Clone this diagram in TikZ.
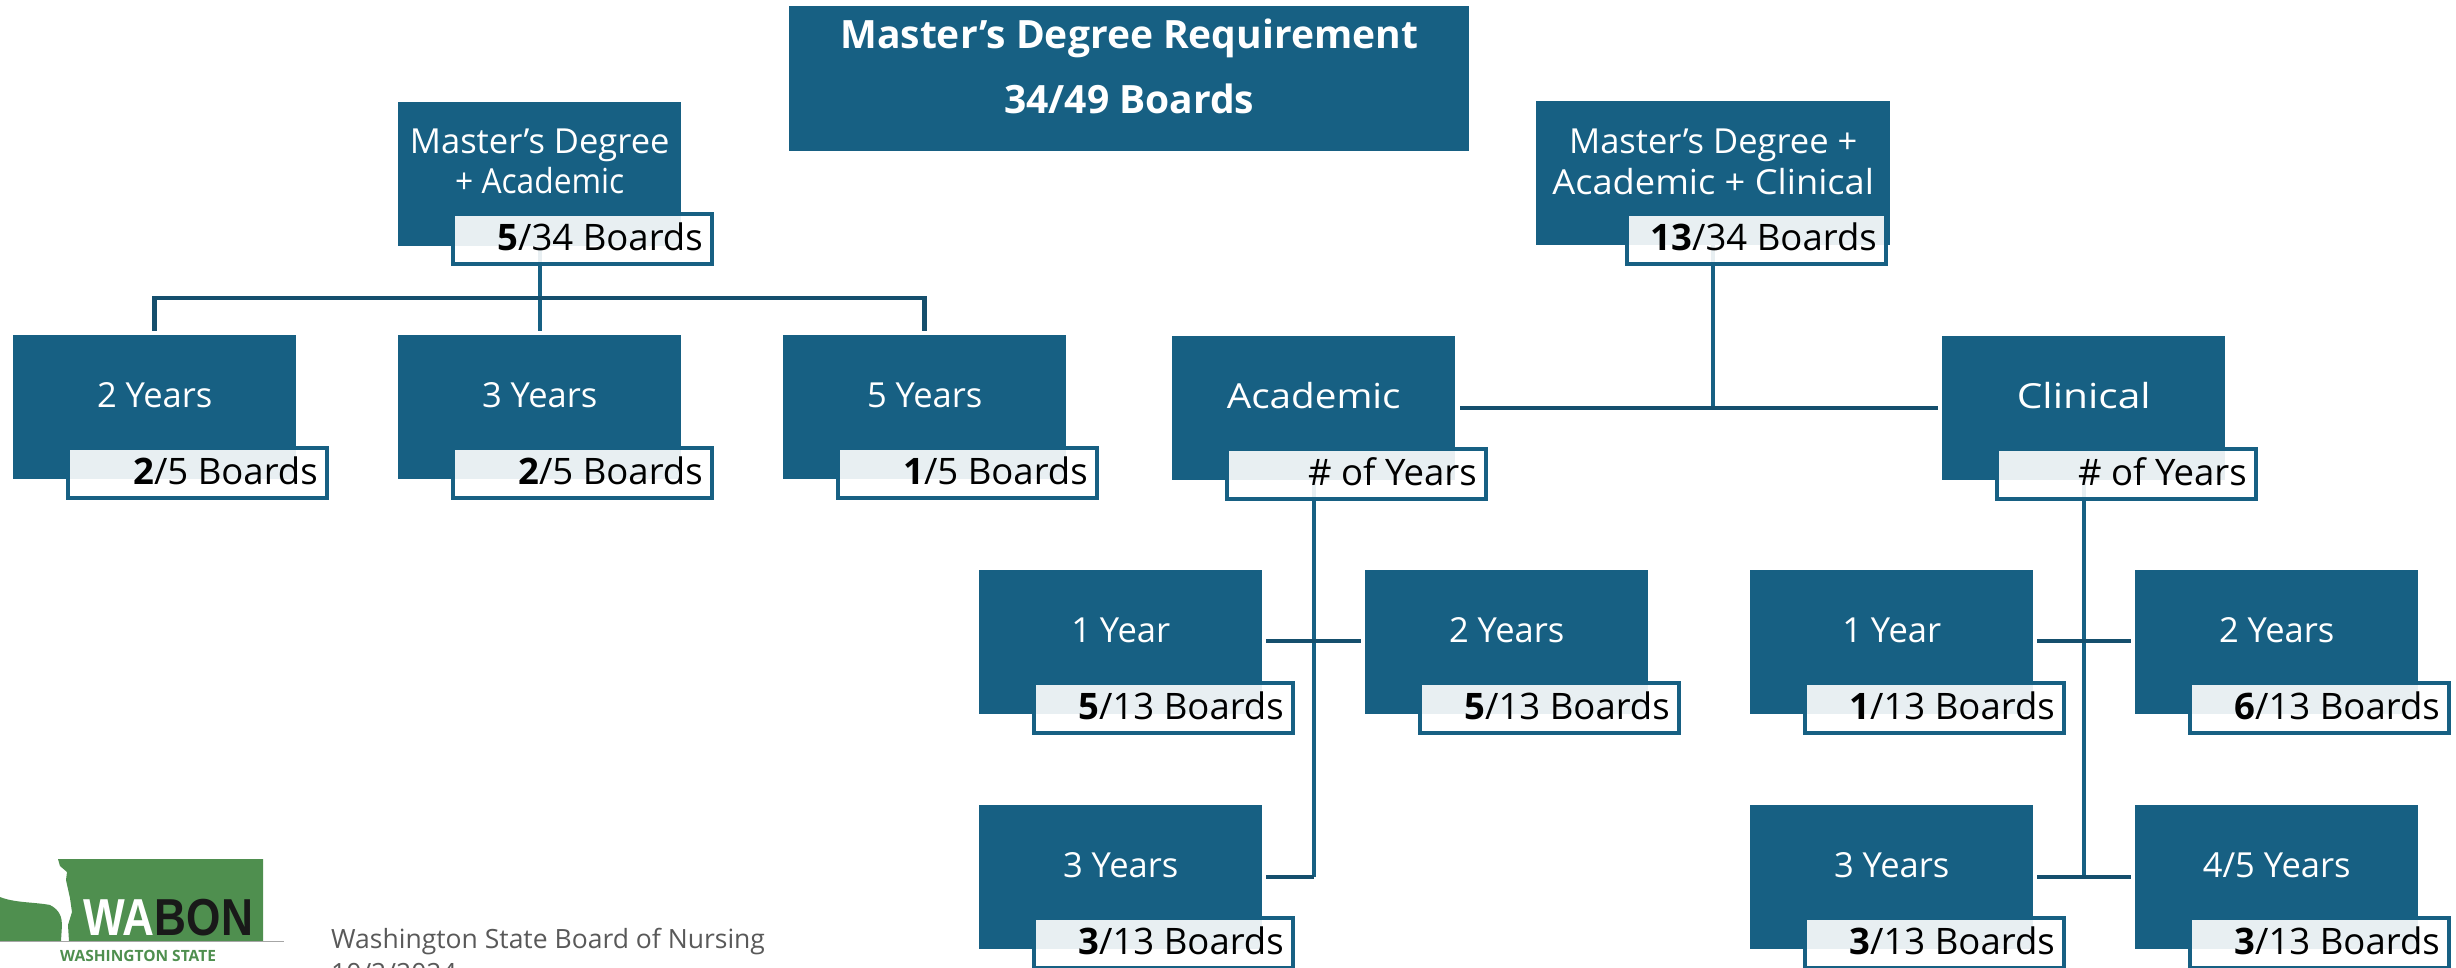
\documentclass[tikz,border=0pt]{standalone}
\usepackage{fontspec}
\setmainfont{Open Sans}
\newfontfamily\logofont{Liberation Sans}
\definecolor{teal1}{HTML}{176083}
\definecolor{teal2}{HTML}{154F6D}
\definecolor{logogreen}{HTML}{4F8F4F}
\definecolor{footgrey}{HTML}{595959}
\tikzset{
  x=1pt,y=-1pt,
  mainbox/.style={fill=teal1,draw=none,minimum width=283pt,minimum height=144pt,inner sep=0pt,text=white,anchor=north west,align=center},
  countbox/.style={fill=white,fill opacity=.9,text opacity=1,draw=teal1,draw opacity=1,line width=3.5pt,minimum width=259pt,minimum height=50pt,inner sep=0pt,anchor=north west,text=black,font=\fontsize{36.5}{40}\selectfont},
  wire/.style={draw=teal2,line width=4.5pt},
  wirev/.style={draw=teal1,line width=4pt},
  lbl/.style={font=\fontsize{34.5}{40}\selectfont},
}
\newcommand{\bigbox}[4]{\node[mainbox,lbl] (#1) at (#2,#3) {\smash{#4}};}
\newcommand{\twolines}[4]{\smash{\makebox[0pt]{\raisebox{#1pt}{#3}}\makebox[0pt]{\raisebox{#2pt}{#4}}}}
\newcommand{\cntbox}[4]{\node[countbox] (#1) at (#2,#3) {\hbox to 259pt{\hfill\smash{\raisebox{-12pt}{#4}}\hspace{9pt}}};}
\begin{document}
\begin{tikzpicture}
\useasboundingbox (0,0) rectangle (2456,967);
\clip (0,0) rectangle (2456,967);
% main boxes
\node[mainbox,minimum width=680pt,minimum height=145pt,font=\fontsize{39}{44}\selectfont\bfseries] (top) at (789,6) {\twolines{30.5}{-34.5}{Master’s Degree Requirement}{34/49 Boards}};
\node[mainbox,lbl] (mda) at (398,102) {\twolines{21}{-19}{Master’s Degree}{\scalebox{.92}[1]{+ Academic}}};
\node[mainbox,lbl,minimum width=354pt] (mdac) at (1536,101) {\twolines{20}{-21}{Master’s Degree +}{\scalebox{1.05}[1]{Academic + Clinical}}};
\bigbox{y2a}{13}{335}{2 Years}
\bigbox{y3a}{398}{335}{3 Years}
\bigbox{y5a}{783}{335}{5 Years}
\bigbox{acad}{1172}{336}{\scalebox{1.12}[1]{Academic}}
\bigbox{clin}{1942}{336}{\scalebox{1.18}[1]{Clinical}}
\bigbox{ac1}{979}{570}{1 Year}
\bigbox{ac2}{1365}{570}{2 Years}
\bigbox{ac3}{979}{805}{3 Years}
\bigbox{cl1}{1750}{570}{1 Year}
\bigbox{cl2}{2135}{570}{2 Years}
\bigbox{cl3}{1750}{805}{3 Years}
\bigbox{cl4}{2135}{805}{4/5 Years}
% connectors
\coordinate (busa) at (mda.south |- 0,298);
\coordinate (busb) at (mdac.south |- 0,408);
\coordinate (juncA) at (acad.south |- 0,641);
\coordinate (juncB) at (acad.south |- 0,877);
\coordinate (juncC) at (clin.south |- 0,641);
\coordinate (juncD) at (clin.south |- 0,877);
\draw[wirev,shorten >=4pt] (mda.south) -- (y3a.north);
\draw[wire,shorten <=4pt,shorten >=4pt] (y2a.north) -- (y2a.north |- busa) -- (y5a.north |- busa) -- (y5a.north);
\draw[wirev] (mdac.south) -- (busb);
\draw[wire,shorten <=5pt,shorten >=4pt] (acad.east |- busb) -- (clin.west |- busb);
\draw[wirev] (acad.south) -- (juncB);
\draw[wire,shorten <=4pt,shorten >=4pt] (ac1.east |- juncA) -- (ac2.west |- juncA);
\draw[wire,shorten <=4pt] (ac3.east |- juncB) -- (juncB);
\draw[wirev] (clin.south) -- (juncD);
\draw[wire,shorten <=4pt,shorten >=4pt] (cl1.east |- juncC) -- (cl2.west |- juncC);
\draw[wire,shorten <=4pt,shorten >=4pt] (cl3.east |- juncD) -- (cl4.west |- juncD);
% count boxes
\cntbox{c1}{451}{212}{\textbf{5}/34 Boards}
\cntbox{c2}{1625}{212}{\textbf{13}/34 Boards}
\cntbox{c3}{66}{446}{\textbf{2}/5 Boards}
\cntbox{c4}{451}{446}{\textbf{2}/5 Boards}
\cntbox{c5}{836}{446}{\textbf{1}/5 Boards}
\cntbox{c6}{1225}{447}{\# of Years}
\cntbox{c7}{1995}{447}{\# of Years}
\cntbox{c8}{1032}{681}{\textbf{5}/13 Boards}
\cntbox{c9}{1418}{681}{\textbf{5}/13 Boards}
\cntbox{c10}{1803}{681}{\textbf{1}/13 Boards}
\cntbox{c11}{2188}{681}{\textbf{6}/13 Boards}
\cntbox{c12}{1032}{916}{\textbf{3}/13 Boards}
\cntbox{c13}{1803}{916}{\textbf{3}/13 Boards}
\cntbox{c14}{2188}{916}{\textbf{3}/13 Boards}
% logo
\fill[logogreen] (58,859) -- (263,859) -- (263,941) -- (69,941) -- (68,925) -- (72,912) -- (70,898) -- (66,880) -- (67,872) -- (60,866) -- cycle;
\fill[logogreen] (0,897) .. controls (15,903) and (35,902) .. (50,905) .. controls (60,910) and (62,918) .. (62,925) -- (61,941) -- (0,941) -- cycle;
\draw[gray!70,line width=1pt] (0,941.5) -- (284,941.5);
\node[inner sep=0pt,anchor=base west,text=white,font=\fontsize{52}{52}\selectfont\bfseries\logofont] (wa) at (83,935) {\scalebox{.85}[1]{WA}};
\node[inner sep=0pt,anchor=base west,text=black!90,font=\fontsize{52}{52}\selectfont\bfseries\logofont] (bon) at (wa.base east) {\scalebox{.85}[1]{BON}};
\node[inner sep=0pt,anchor=base west,text=logogreen,font=\fontsize{15.5}{16}\selectfont\bfseries] (wast) at (60,961) {WASHINGTON STATE};
% footer
\node[inner sep=0pt,anchor=base west,text=footgrey,font=\fontsize{26.5}{30}\selectfont] (foot) at (331,948) {Washington State Board of Nursing};
\node[inner sep=0pt,anchor=base west,text=footgrey,font=\fontsize{26.5}{30}\selectfont] (date) at (331,982) {10/2/2024};
\end{tikzpicture}
\end{document}
